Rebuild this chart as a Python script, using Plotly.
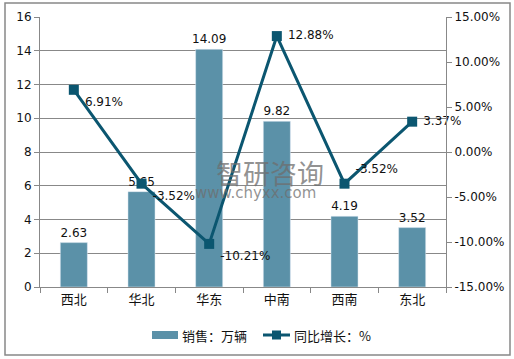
import plotly.graph_objects as go

categories = ["西北", "华北", "华东", "中南", "西南", "东北"]
sales = [2.63, 5.65, 14.09, 9.82, 4.19, 3.52]
growth = [6.91, -3.52, -10.21, 12.88, -3.52, 3.37]
growth_labels = ["6.91%", "-3.52%", "-10.21%", "12.88%", "-3.52%", "3.37%"]
sales_labels = ["2.63", "5.65", "14.09", "9.82", "4.19", "3.52"]
left_ticks = [0, 2, 4, 6, 8, 10, 12, 14, 16]
right_ticks = [-15, -10, -5, 0, 5, 10, 15]
right_tick_text = ["-15.00%", "-10.00%", "-5.00%", "0.00%", "5.00%", "10.00%", "15.00%"]
series_names = ["销售：万辆", "同比增长：%"]

FONT = "DejaVu Sans, Noto Sans CJK SC, sans-serif"
CJK = "Noto Sans CJK SC, sans-serif"
BAR_C = "#5B91A8"
LINE_C = "#0B5670"

# pixel -> paper helpers (plot area: x 40..446, y 17..287)
def px(x):
    return (x - 40) / 406

def py(y):
    return (287 - y) / 270

fig = go.Figure()
fig.add_trace(go.Bar(
    x=categories, y=sales, name=series_names[0], marker_color=BAR_C, width=0.4,
    text=sales_labels, textposition="outside", cliponaxis=False, constraintext="none",
    textfont=dict(size=12, color="#111", family=FONT), hoverinfo="skip",
))
fig.add_trace(go.Scatter(
    x=categories, y=growth, name=series_names[1], yaxis="y2",
    mode="lines+markers+text", line=dict(color=LINE_C, width=3),
    marker=dict(symbol="square", size=10, color=LINE_C),
    text=[" " + t for t in growth_labels],
    textposition=["bottom right", "bottom right", "bottom right", "middle right", "top right", "middle right"],
    textfont=dict(size=12, color="#111", family=FONT), cliponaxis=False, hoverinfo="skip",
))

shapes = [
    dict(type="rect", xref="paper", yref="paper",
         x0=px(5), x1=px(510), y0=py(355), y1=py(3),
         line=dict(color="#888", width=1.5), fillcolor="rgba(0,0,0,0)", layer="below"),
    # custom legend symbols
    dict(type="rect", xref="paper", yref="paper",
         x0=px(152), x1=px(178), y0=py(339), y1=py(331),
         line=dict(width=0), fillcolor=BAR_C),
    dict(type="line", xref="paper", yref="paper",
         x0=px(263), x1=px(290), y0=py(335), y1=py(335),
         line=dict(color=LINE_C, width=3)),
    dict(type="rect", xref="paper", yref="paper",
         x0=px(272), x1=px(281), y0=py(339.5), y1=py(330.5),
         line=dict(width=0), fillcolor=LINE_C),
]

annotations = [
    dict(text=series_names[0], x=px(180), y=py(335), xref="paper", yref="paper",
         xanchor="left", yanchor="middle", showarrow=False,
         font=dict(family=CJK, size=13, color="#111")),
    dict(text=series_names[1], x=px(292), y=py(335), xref="paper", yref="paper",
         xanchor="left", yanchor="middle", showarrow=False,
         font=dict(family=CJK, size=13, color="#111")),
    # watermark
    dict(text="智研咨询", x=px(214), y=py(172), xref="paper", yref="paper",
         xanchor="left", yanchor="middle", showarrow=False,
         font=dict(family=CJK, size=27, color="rgba(110,110,110,0.75)")),
    dict(text="www.chyxx.com", x=px(193), y=py(193), xref="paper", yref="paper",
         xanchor="left", yanchor="middle", showarrow=False,
         font=dict(family=FONT, size=15, color="rgba(110,110,110,0.75)")),
]

fig.update_layout(
    width=514, height=359,
    margin=dict(l=40, r=68, t=17, b=72, autoexpand=False),
    paper_bgcolor="white", plot_bgcolor="white",
    showlegend=False,
    font=dict(family=FONT, size=12, color="#111"),
    xaxis=dict(
        showline=True, linecolor="#888", linewidth=1,
        ticks="outside", tickson="boundaries", ticklen=5, tickcolor="#888",
        tickfont=dict(family=CJK, size=13), showgrid=False,
    ),
    yaxis=dict(
        range=[0, 16], tickvals=left_ticks, showline=True, linecolor="#888",
        ticks="outside", ticklen=5, tickcolor="#888",
        showgrid=True, gridcolor="#888", gridwidth=1, zeroline=False,
        tickfont=dict(size=12),
    ),
    yaxis2=dict(
        range=[-15, 15], tickvals=right_ticks, ticktext=right_tick_text,
        overlaying="y", side="right", showline=True, linecolor="#888",
        ticks="outside", ticklen=5, tickcolor="#888",
        showgrid=False, zeroline=False, tickfont=dict(size=12),
    ),
    shapes=shapes,
    annotations=annotations,
)

fig.write_html(
    "out.html",
    config={"displayModeBar": False},
    post_script="document.body.style.margin='0';document.body.style.overflow='hidden';",
)
